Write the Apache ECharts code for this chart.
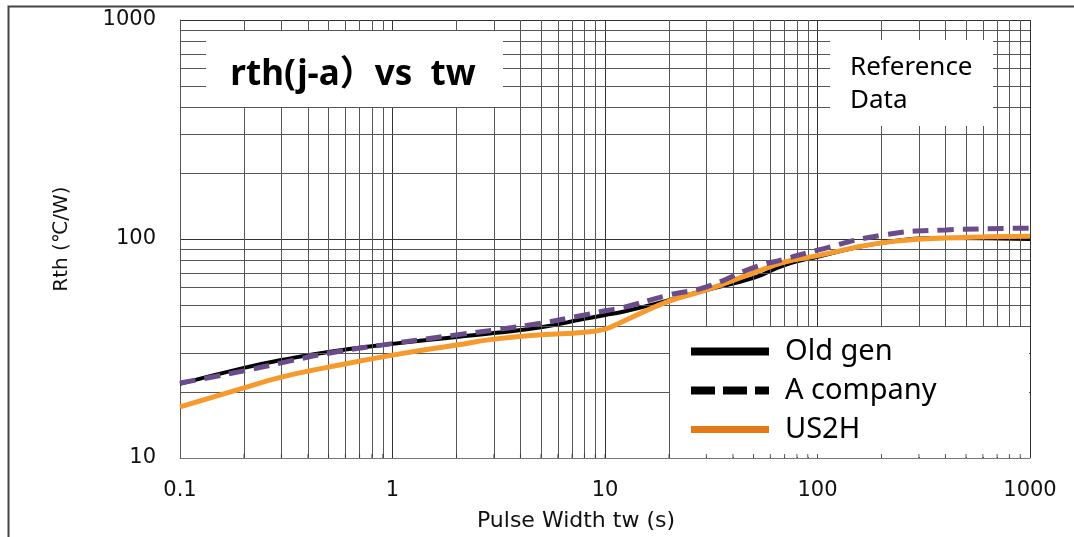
<!DOCTYPE html>
<html>
<head>
<meta charset="utf-8">
<script src="https://cdn.jsdelivr.net/npm/echarts@6/dist/echarts.min.js"></script>
<style>
  html, body { margin: 0; padding: 0; background: #fff; }
  #chart { width: 1074px; height: 537px; }
</style>
</head>
<body>
<div id="chart"></div>
<script>
  // pulse width (s) at which the curves were read
  const pulseWidth = [0.1, 0.2, 0.3, 0.5, 1, 2, 3, 5, 8, 10, 12, 20, 30, 50, 70, 100, 200, 400, 1000]
  const oldGen   = [21.8, 25.8, 28.0, 30.5, 33.2, 35.7, 37.2, 39.5, 43.2, 45.0, 46.4, 52.5, 58.5, 66.4, 76, 83, 96, 101, 100]
  const aCompany = [22.0, 25.0, 27.2, 30.1, 33.3, 36.5, 38.4, 41.3, 45.0, 47.0, 48.5, 55.5, 60.5, 74, 81, 89, 104, 110, 112]
  const us2h     = [17.1, 20.9, 23.4, 26.0, 29.5, 32.8, 34.9, 36.5, 37.5, 38.8, 41.8, 52.0, 58.5, 70, 78.5, 84, 96, 101, 103]

  const xDecades = [0.1, 1, 10, 100]
  const yDecades = [10, 100]
  const minorSteps = [2, 3, 4, 5, 6, 7, 8, 9]

  let minorX = []
  xDecades.forEach(d => minorSteps.forEach(s => minorX.push(+(d * s).toPrecision(3))))
  let minorY = []
  yDecades.forEach(d => minorSteps.forEach(s => minorY.push(d * s)))
  let tickX = minorX.concat([1, 10, 100])

  function pairs(ys) {
    return pulseWidth.map((x, i) => [x, ys[i]])
  }

  // hide the round symbol ECharts puts in the middle of line legend icons
  const noSymbol = { color: 'rgba(0,0,0,0)', borderWidth: 0, opacity: 0 }

  let myChart = echarts.init(document.getElementById('chart'))
  let option = {
    animation: false,
    grid: { left: 180, right: 44, top: 20, bottom: 79 },
    xAxis: {
      type: 'log',
      logBase: 10,
      min: 0.1,
      max: 1000,
      splitNumber: 4,
      name: 'Pulse Width tw (s)',
      nameLocation: 'middle',
      nameGap: 52,
      nameTextStyle: { fontFamily: 'DejaVu Sans', fontSize: 22, color: '#111', padding: [0, 58, 0, 0] },
      axisLine: { show: true, lineStyle: { color: '#777', width: 1 } },
      axisTick: { show: false },
      axisLabel: {
        fontFamily: 'DejaVu Sans', fontSize: 21, color: '#111', margin: 22,
        formatter: v => String(v)
      },
      splitLine: { show: true, lineStyle: { color: '#333', width: 1 } }
    },
    yAxis: {
      type: 'log',
      logBase: 10,
      min: 10,
      max: 1000,
      splitNumber: 2,
      name: 'Rth (℃/W)',
      nameLocation: 'middle',
      nameGap: 108,
      nameTextStyle: { fontFamily: 'DejaVu Sans', fontSize: 20, color: '#111' },
      axisLine: { show: true, lineStyle: { color: '#555', width: 1 } },
      axisTick: { show: false },
      axisLabel: {
        fontFamily: 'DejaVu Sans', fontSize: 21, color: '#111', margin: 24,
        formatter: v => String(v)
      },
      splitLine: { show: true, lineStyle: { color: '#333', width: 1 } }
    },
    legend: {
      orient: 'vertical',
      left: 682,
      top: 332,
      itemWidth: 78,
      itemHeight: 30,
      itemGap: 10,
      z: 110,
      selectedMode: false,
      textStyle: { fontFamily: 'Noto Sans', fontSize: 29, color: '#000', padding: [0, 0, 0, 11] },
      data: [
        { name: 'Old gen', itemStyle: noSymbol, lineStyle: { color: '#000', width: 8, type: 'solid' } },
        { name: 'A company', itemStyle: noSymbol, lineStyle: { color: '#000', width: 8, type: [24, 8] } },
        { name: 'US2H', itemStyle: noSymbol, lineStyle: { color: '#E47B17', width: 7, type: 'solid' } }
      ]
    },
    graphic: [
      { type: 'polyline', z: 100, shape: { points: [[1074, 6.5], [8.5, 6.5], [8.5, 537]] },
        style: { stroke: '#444', lineWidth: 2, fill: null } },
      { type: 'rect', z: 100, shape: { x: 206, y: 31, width: 297, height: 76 }, style: { fill: '#fff' } },
      { type: 'rect', z: 100, shape: { x: 830, y: 40, width: 163, height: 86 }, style: { fill: '#fff' } },
      { type: 'rect', z: 100, shape: { x: 670, y: 327, width: 359, height: 130 }, style: { fill: '#fff' } },
      { type: 'text', z: 102, style: {
          text: 'rth(j-a）vs  tw', x: 353, y: 75,
          font: 'bold 35px "Noto Sans", "Noto Sans CJK JP"', fill: '#000',
          textAlign: 'center', textVerticalAlign: 'middle' } },
      { type: 'text', z: 102, style: {
          text: 'Reference\nData', x: 850, y: 84, lineHeight: 33,
          font: '26px "Noto Sans"', fill: '#000',
          textAlign: 'left', textVerticalAlign: 'middle' } }
    ],
    series: [
      {
        name: 'grid',
        type: 'line',
        z: 0,
        silent: true,
        data: [],
        markLine: {
          silent: true,
          symbol: 'none',
          animation: false,
          label: { show: false },
          lineStyle: { color: '#555', width: 1, type: 'solid' },
          emphasis: { disabled: true },
          data: minorX.map(v => ({ xAxis: v })).concat(minorY.map(v => ({ yAxis: v })))
        }
      },
      {
        name: 'ticks',
        type: 'scatter',
        z: 101,
        silent: true,
        symbol: 'rect',
        symbolSize: [1, 4],
        symbolOffset: [0, -2],
        itemStyle: { color: '#333' },
        data: tickX.map(v => [v, 10])
      },
      {
        name: 'Old gen',
        type: 'line',
        z: 4,
        smooth: true,
        symbol: 'none',
        lineStyle: { color: '#000', width: 4 },
        itemStyle: { color: '#000' },
        data: pairs(oldGen)
      },
      {
        name: 'US2H',
        type: 'line',
        z: 5,
        smooth: true,
        symbol: 'none',
        lineStyle: { color: '#F79A2E', width: 5 },
        itemStyle: { color: '#F79A2E' },
        data: pairs(us2h)
      },
      {
        name: 'A company',
        type: 'line',
        z: 6,
        smooth: true,
        symbol: 'none',
        lineStyle: { color: '#6A4C8A', width: 5, type: [16, 9] },
        itemStyle: { color: '#6A4C8A' },
        data: pairs(aCompany)
      }
    ]
  }
  myChart.setOption(option)
</script>
</body>
</html>
